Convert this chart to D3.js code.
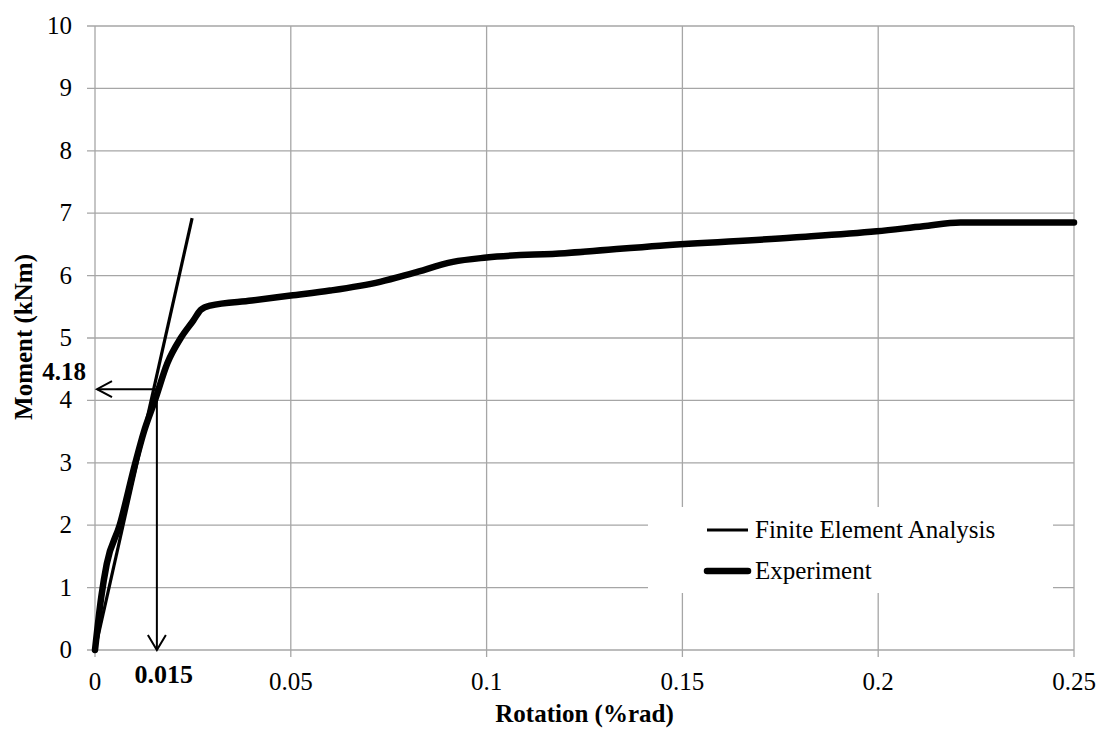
<!DOCTYPE html>
<html>
<head>
<meta charset="UTF-8">
<title>Moment - Rotation</title>
<script src="https://d3js.org/d3.v7.min.js"></script>
<style>
  body { margin: 0; background: #fff; }
  svg text { font-family: "Liberation Serif", "Times New Roman", serif; fill: #000; }
  .grid line { stroke: #a6a6a6; stroke-width: 1.3; }
</style>
</head>
<body>
<svg width="1099" height="731"></svg>
<script>
// data
const xTicks = [0, 0.05, 0.1, 0.15, 0.2, 0.25];
const xTickLabels = ["0", "0.05", "0.1", "0.15", "0.2", "0.25"];
const yTicks = [0, 1, 2, 3, 4, 5, 6, 7, 8, 9, 10];

// Finite Element Analysis (straight initial stiffness line)
const feaRot = [0, 0.0248];
const feaMom = [0, 6.92];

// Experiment
const expRot = [0, 0.0016, 0.003, 0.0063, 0.0103, 0.0125, 0.0153, 0.0185, 0.0219, 0.0251, 0.027, 0.0294,
                0.04, 0.05, 0.06, 0.0728, 0.0812, 0.0914, 0.1, 0.12, 0.1443, 0.1783, 0.1996, 0.2115, 0.221, 0.25];
const expMom = [0, 0.85, 1.38, 2.0, 3.0, 3.5, 4.0, 4.6, 5.0, 5.28, 5.45, 5.52,
                5.6, 5.68, 5.76, 5.9, 6.04, 6.22, 6.29, 6.36, 6.48, 6.61, 6.71, 6.79, 6.85, 6.85];

// annotation (yield point)
const yieldRot = 0.0158;
const yieldMom = 4.18;
const yieldRotLabel = "0.015";
const yieldMomLabel = "4.18";

const seriesNames = ["Finite Element Analysis", "Experiment"];

const svg = d3.select("svg");
const x = d3.scaleLinear().domain([0, 0.25]).range([95, 1074]);
const y = d3.scaleLinear().domain([0, 10]).range([650, 26]);

// grid
const grid = svg.append("g").attr("class", "grid");
grid.selectAll(".gy").data(yTicks).enter().append("line")
    .attr("x1", x(0) - 8).attr("x2", x(0.25))
    .attr("y1", d => y(d)).attr("y2", d => y(d));
grid.selectAll(".gx").data(xTicks).enter().append("line")
    .attr("x1", d => x(d)).attr("x2", d => x(d))
    .attr("y1", y(10)).attr("y2", y(0) + 7);

// legend box hides the grid behind it
svg.append("rect")
    .attr("x", 648).attr("y", 507).attr("width", 405).attr("height", 86)
    .attr("fill", "#fff");

// tick labels
svg.append("g").selectAll("text").data(yTicks).enter().append("text")
    .attr("x", 72).attr("y", d => y(d) + 8)
    .attr("text-anchor", "end")
    .attr("font-size", 25)
    .text(d => d);
svg.append("g").selectAll("text").data(xTicks).enter().append("text")
    .attr("x", d => x(d)).attr("y", 690)
    .attr("text-anchor", "middle")
    .attr("font-size", 25)
    .text((d, i) => xTickLabels[i]);

// axis titles
svg.append("text")
    .attr("x", (x(0) + x(0.25)) / 2).attr("y", 722)
    .attr("text-anchor", "middle")
    .attr("font-size", 25).attr("font-weight", "bold")
    .text("Rotation (%rad)");
svg.append("text")
    .attr("transform", "translate(32,337) rotate(-90)")
    .attr("text-anchor", "middle")
    .attr("font-size", 25).attr("font-weight", "bold")
    .text("Moment (kNm)");

// lines
const line = d3.line().x(d => x(d[0])).y(d => y(d[1]));
const feaData = feaRot.map((r, i) => [r, feaMom[i]]);
const expData = expRot.map((r, i) => [r, expMom[i]]);

svg.append("path").datum(feaData)
    .attr("d", line)
    .attr("fill", "none").attr("stroke", "#000").attr("stroke-width", 3.2);

svg.append("path").datum(expData)
    .attr("d", line.curve(d3.curveMonotoneX))
    .attr("fill", "none").attr("stroke", "#000").attr("stroke-width", 6.5)
    .attr("stroke-linejoin", "round").attr("stroke-linecap", "round");

// arrows
const ax = x(yieldRot), ay = y(yieldMom);
const arr = svg.append("g").attr("stroke", "#000").attr("stroke-width", 2).attr("fill", "none");
arr.append("line").attr("x1", ax).attr("y1", ay).attr("x2", x(0) + 2).attr("y2", ay);
arr.append("path").attr("d", `M${x(0) + 17},${ay - 8}L${x(0) + 2},${ay}L${x(0) + 17},${ay + 8}`);
arr.append("line").attr("x1", ax).attr("y1", ay).attr("x2", ax).attr("y2", y(0));
arr.append("path").attr("d", `M${ax - 9},${y(0) - 15}L${ax},${y(0)}L${ax + 9},${y(0) - 15}`);

svg.append("text")
    .attr("x", 64).attr("y", ay - 9)
    .attr("text-anchor", "middle")
    .attr("font-size", 25).attr("font-weight", "bold")
    .text(yieldMomLabel);
svg.append("text")
    .attr("x", ax + 7).attr("y", 683)
    .attr("text-anchor", "middle")
    .attr("font-size", 26).attr("font-weight", "bold")
    .text(yieldRotLabel);

// legend
const legend = svg.append("g");
const legY = [530, 571];
const legW = [3.2, 6.5];
legend.selectAll("line").data(seriesNames).enter().append("line")
    .attr("x1", 707).attr("x2", 748)
    .attr("y1", (d, i) => legY[i]).attr("y2", (d, i) => legY[i])
    .attr("stroke", "#000")
    .attr("stroke-width", (d, i) => legW[i])
    .attr("stroke-linecap", (d, i) => i ? "round" : "butt");
legend.selectAll("text").data(seriesNames).enter().append("text")
    .attr("x", 755).attr("y", (d, i) => legY[i] + 8)
    .attr("font-size", 25)
    .text(d => d);
</script>
</body>
</html>
